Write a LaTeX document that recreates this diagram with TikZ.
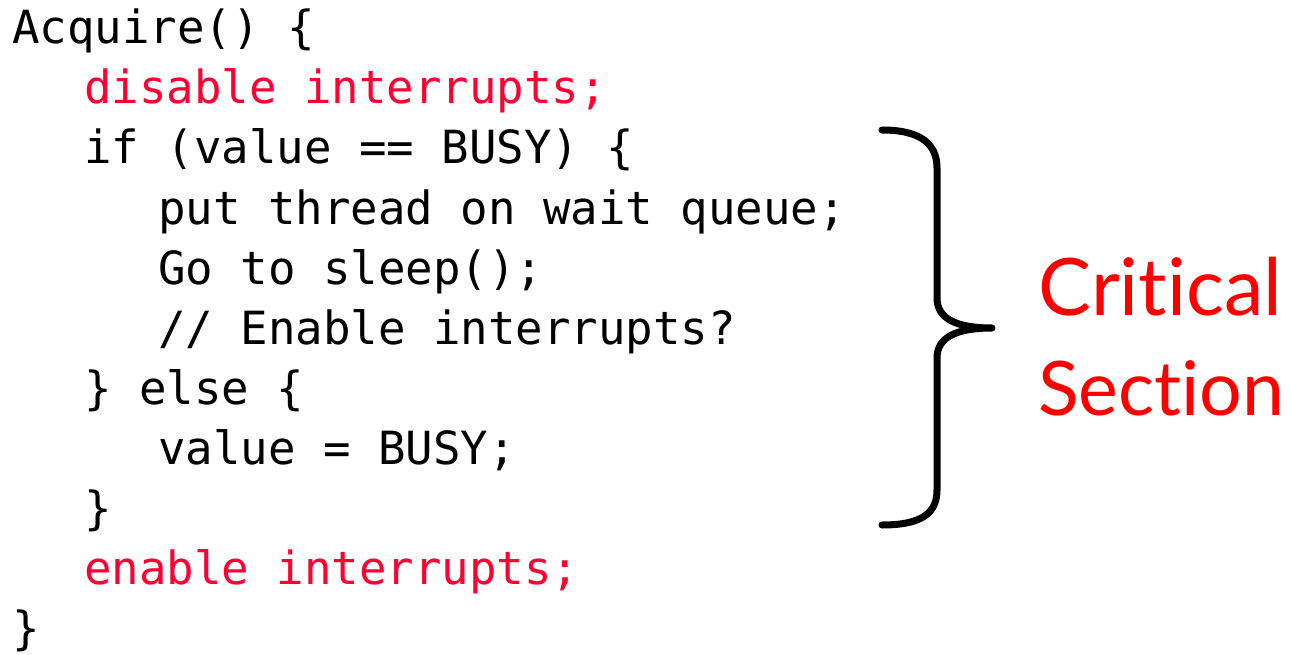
\documentclass[tikz,border=0pt]{standalone}
\usepackage{fontspec}
\setmonofont{DejaVu Sans Mono}
\newfontfamily\labelfont[Ligatures=NoCommon]{Lato}
\definecolor{codered}{RGB}{255,0,51}
\definecolor{labelred}{RGB}{255,0,0}
\begin{document}
\begin{tikzpicture}[x=1pt,y=-1pt,
  code/.style={anchor=base west,inner sep=0pt,font=\ttfamily\fontsize{45.7}{50}\selectfont},
  hot/.style={code,text=codered},
  tag/.style={anchor=base west,inner sep=0pt,text=labelred,font=\labelfont\fontsize{76}{86}\selectfont}]
\useasboundingbox (0,0) rectangle (1292,655);
% code lines, one baseline every 60 units
\node[code] (l1)  at (12,44)  {Acquire() \{};
\node[hot]  (l2)  at (84,104) {disable interrupts;};
\node[code] (l3)  at (84,164) {if (value == BUSY) \{};
\node[code] (l4)  at (158,224) {put thread on wait queue;};
\node[code] (l5)  at (158,284) {Go to sleep();};
\node[code] (l6)  at (158,344) {// Enable interrupts?};
\node[code] (l7)  at (84,404) {\} else \{};
\node[code] (l8)  at (158,464) {value = BUSY;};
\node[code] (l9)  at (84,524) {\}};
\node[hot]  (l10) at (84,584) {enable interrupts;};
\node[code] (l11) at (12,644) {\}};
% curly brace around the critical section
\draw[line width=7pt,line cap=round,line join=round]
  (882,130) .. controls (922,130) and (937,145) .. (937,168)
  -- (937,298) .. controls (937,318) and (955,328) .. (992,328)
  .. controls (955,328) and (937,338) .. (937,358)
  -- (937,490) .. controls (937,513) and (922,525) .. (882,525);
\node[tag] (c1) at (1038,315) {\resizebox{244pt}{!}{Critical}};
\node[tag] (c2) at (1038,415) {\resizebox{246pt}{!}{Section}};
\end{tikzpicture}
\end{document}
